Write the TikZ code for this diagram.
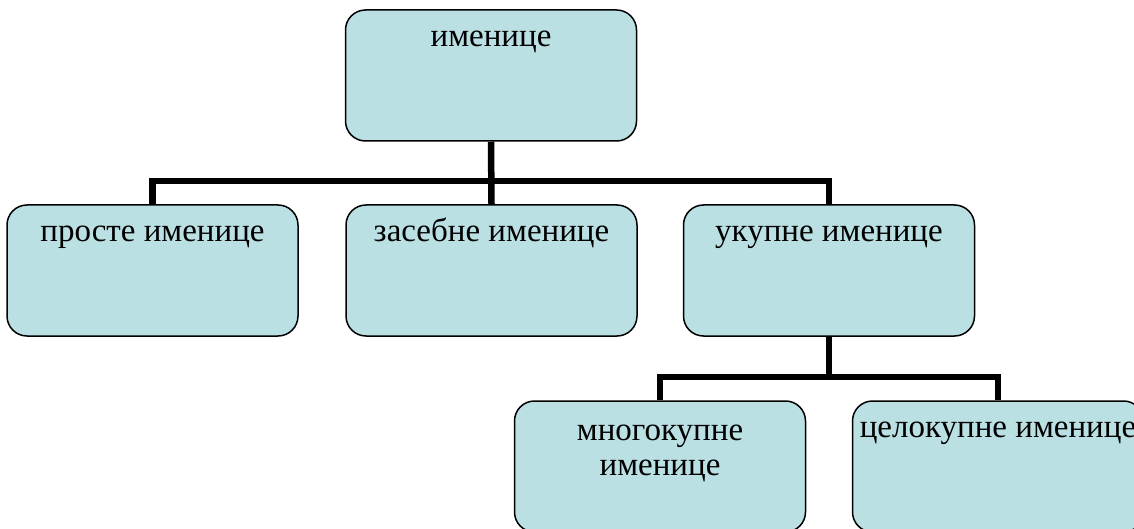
\documentclass[tikz,border=0pt]{standalone}
\usepackage{fontspec}
\setmainfont{Liberation Serif}
\pgfdeclarelayer{background}
\pgfsetlayers{background,main}
\begin{document}
\begin{tikzpicture}[x=1pt,y=-1pt,
  box/.style={draw=black, line width=1.5pt, fill=boxfill, rounded corners=20pt,
    minimum width=291pt, minimum height=131pt, inner sep=0pt},
  lbl/.style={font=\fontsize{33}{35}\selectfont, inner sep=0pt, align=center},
  conn/.style={line width=6.5pt, line join=miter}]
\definecolor{boxfill}{HTML}{BBE0E3}
\useasboundingbox (0,0) rectangle (1134,529);
\clip (0,0) rectangle (1134,529);
% boxes
\node[box] (n0) at (491,75.5) {};
\node[box] (n1) at (152.5,270.5) {};
\node[box] (n2) at (491.5,270.5) {};
\node[box] (n3) at (829,270.5) {};
\node[box] (n4) at (660,466.5) {};
\node[box] (n5) at (998,466.5) {};
\coordinate (b1) at (491,181);
\coordinate (b2) at (829,377);
% connectors (behind boxes)
\begin{pgfonlayer}{background}
\draw[conn] (n1.north) |- (b1) -| (n3.north);
\draw[conn] (n0.south) -- (n2.north);
\draw[conn] (n4.north) |- (b2) -| (n5.north);
\draw[conn] (n3.south) -- (b2);
\end{pgfonlayer}
% labels
\node[lbl, anchor=base] (t0) at ([yshift=-37pt]n0.north) {именице};
\node[lbl, anchor=base] (t1) at ([yshift=-37pt]n1.north) {просте именице};
\node[lbl, anchor=base] (t2) at ([yshift=-37pt]n2.north) {засебне именице};
\node[lbl, anchor=base] (t3) at ([yshift=-37pt]n3.north) {укупне именице};
\node[lbl, anchor=north] (t4) at ([yshift=-24pt]n4.north) {многокупне\\именице};
\node[lbl, anchor=base] (t5) at ([yshift=-37pt]n5.north) {целокупне именице};
\end{tikzpicture}
\end{document}
